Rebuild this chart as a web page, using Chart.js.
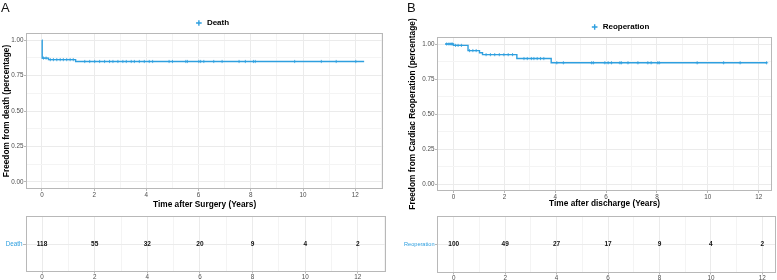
<!DOCTYPE html>
<html>
<head>
<meta charset="utf-8">
<script src="https://cdn.jsdelivr.net/npm/chart.js@4"></script>
<style>
  html, body { margin:0; padding:0; background:#fff; }
  #wrap { position:relative; width:777px; height:280px; overflow:hidden; background:#fff; }
  canvas { position:absolute; }
  .tag { position:absolute; font-family:'Liberation Sans', Arial, sans-serif; font-size:13px; line-height:13px; color:#111; }
</style>
</head>
<body>
<div id="wrap">
  <canvas id="kmA" width="388" height="212" style="left:0;top:0"></canvas>
  <canvas id="rtA" width="388" height="68" style="left:0;top:212px"></canvas>
  <canvas id="kmB" width="389" height="212" style="left:388px;top:0"></canvas>
  <canvas id="rtB" width="389" height="68" style="left:388px;top:212px"></canvas>
  <div class="tag" style="left:1px;top:1px">A</div>
  <div class="tag" style="left:407px;top:1px">B</div>
</div>
<script>
// ---------- DATA ----------
const seriesNames = ['Death', 'Reoperation'];
const xTitles = ['Time after Surgery (Years)', 'Time after discharge (Years)'];
const yTitles = ['Freedom from death (percentage)', 'Freedom from Cardiac Reoperation (percentage)'];

const xTickLabels = [0, 2, 4, 6, 8, 10, 12];
const yTickLabels = [0, 0.25, 0.5, 0.75, 1.0];

// Kaplan-Meier steps, panel A (Death)
const deathTimes = [0, 0.01, 0.25, 1.29, 12.34];
const deathSurv  = [1.0, 0.873, 0.862, 0.849, 0.849];
// censor marks, panel A
const deathCensorTimes = [0.06, 0.16,
  0.32, 0.44, 0.57, 0.70, 0.82, 0.95, 1.08, 1.20,
  1.64, 1.83, 2.02, 2.21, 2.40, 2.59, 2.72, 2.91, 3.10, 3.23, 3.42, 3.54, 3.73, 3.92, 4.11, 4.24,
  4.87, 5.00, 5.51, 5.57, 6.01, 6.08, 6.20, 6.58, 6.90, 7.55, 7.79, 8.10, 8.17, 9.68, 10.70, 11.27, 12.02];
const deathCensorSurv = [0.873, 0.873,
  0.862, 0.862, 0.862, 0.862, 0.862, 0.862, 0.862, 0.862,
  0.849, 0.849, 0.849, 0.849, 0.849, 0.849, 0.849, 0.849, 0.849, 0.849, 0.849, 0.849, 0.849, 0.849, 0.849, 0.849,
  0.849, 0.849, 0.849, 0.849, 0.849, 0.849, 0.849, 0.849, 0.849, 0.849, 0.849, 0.849, 0.849, 0.849, 0.849, 0.849, 0.849];

// Kaplan-Meier steps, panel B (Reoperation)
const reopTimes = [-0.33, 0.0, 0.57, 1.02, 1.14, 2.49, 3.84, 12.33];
const reopSurv  = [1.0, 0.99, 0.953, 0.938, 0.924, 0.896, 0.866, 0.866];
// censor marks, panel B
const reopCensorTimes = [-0.27, -0.18, -0.10, -0.05,
  0.08, 0.18, 0.31,
  0.63, 0.76, 0.89,
  1.28, 1.45, 1.62, 1.80, 1.98, 2.15, 2.32,
  2.77, 2.90, 3.06, 3.16, 3.29, 3.42, 3.55,
  4.06, 4.32, 5.43, 5.50, 5.95, 6.08, 6.21, 6.54, 6.60, 6.86, 7.25, 7.64, 7.77, 8.03, 8.09, 9.58, 10.62, 11.27, 12.31];
const reopCensorSurv = [1.0, 1.0, 1.0, 1.0,
  0.99, 0.99, 0.99,
  0.953, 0.953, 0.953,
  0.924, 0.924, 0.924, 0.924, 0.924, 0.924, 0.924,
  0.896, 0.896, 0.896, 0.896, 0.896, 0.896, 0.896,
  0.866, 0.866, 0.866, 0.866, 0.866, 0.866, 0.866, 0.866, 0.866, 0.866, 0.866, 0.866, 0.866, 0.866, 0.866, 0.866, 0.866, 0.866, 0.866];

// number at risk tables
const riskTimes = [0, 2, 4, 6, 8, 10, 12];
const deathAtRisk = [118, 55, 32, 20, 9, 4, 2];
const reopAtRisk  = [100, 49, 27, 17, 9, 4, 2];

// ---------- STYLE ----------
const FONT = "'Liberation Sans', Arial, Helvetica, sans-serif";
const BLUE = '#2E9FDF';
const GRID_MAJOR = '#EBEBEB';
const GRID_MINOR = '#F4F4F4';
const BORDER = '#B8B8B8';
const TICKTXT = '#4D4D4D';

const panelBorder = {
  id: 'panelBorder',
  afterDraw(chart) {
    const a = chart.chartArea, c = chart.ctx;
    c.save();
    c.strokeStyle = BORDER; c.lineWidth = 1;
    c.strokeRect(Math.round(a.left) + 0.5, Math.round(a.top) + 0.5,
                 Math.round(a.right - a.left) - 1, Math.round(a.bottom - a.top) - 1);
    c.restore();
  }
};

const legendShift = {
  id: 'legendShift',
  afterLayout(chart, args, opts) {
    const l = chart.legend;
    if (!l) return;
    const dx = opts.dx || 0, dy = opts.dy || 0;
    l.left += dx; l.right += dx; l.top += dy; l.bottom += dy;
  }
};

const riskLabels = {
  id: 'riskLabels',
  afterDatasetsDraw(chart) {
    const ctx = chart.ctx;
    chart.data.datasets.forEach((ds, i) => {
      if (!ds.counts) return;
      const meta = chart.getDatasetMeta(i);
      ctx.save();
      ctx.font = `bold 6.5px ${FONT}`;
      ctx.fillStyle = '#111';
      ctx.textAlign = 'center';
      ctx.textBaseline = 'middle';
      meta.data.forEach((pt, j) => ctx.fillText(String(ds.counts[j]), pt.x, pt.y));
      ctx.restore();
    });
  }
};

function isMajor(list, v) { return list.some(m => Math.abs(m - v) < 1e-9); }

function xScale(min, max, opts) {
  const minors = [];
  for (let v = Math.ceil(min); v <= max; v++) if (!isMajor(xTickLabels, v)) minors.push(v);
  return {
    type: 'linear', min, max,
    afterFit: s => { s.height = opts.height; },
    afterBuildTicks: s => {
      s.ticks = xTickLabels.concat(minors).sort((a, b) => a - b).map(v => ({ value: v }));
    },
    ticks: {
      autoSkip: false, maxRotation: 0, padding: opts.pad,
      color: TICKTXT, font: { family: FONT, size: 6.3 },
      callback: v => isMajor(xTickLabels, v) ? String(v) : ''
    },
    grid: {
      drawTicks: true, tickLength: opts.tl,
      color: c => isMajor(xTickLabels, c.tick.value) ? GRID_MAJOR : GRID_MINOR,
      lineWidth: 1,
      tickColor: c => isMajor(xTickLabels, c.tick.value) ? BORDER : 'rgba(0,0,0,0)'
    },
    border: { display: false },
    title: opts.title ? {
      display: true, text: opts.title, color: '#000',
      font: { family: FONT, size: 8.3, weight: 'bold' },
      padding: { top: 0, bottom: opts.titlePad }
    } : { display: false }
  };
}

function yScaleKM(width, title, titlePad) {
  const minors = [0.125, 0.375, 0.625, 0.875];
  return {
    type: 'linear', min: -0.05, max: 1.05,
    afterFit: s => { s.width = width; },
    afterBuildTicks: s => {
      s.ticks = yTickLabels.concat(minors).sort((a, b) => a - b).map(v => ({ value: v }));
    },
    ticks: {
      autoSkip: false, padding: 0.5, color: TICKTXT, font: { family: FONT, size: 6.3 },
      callback: v => isMajor(yTickLabels, v) ? v.toFixed(2) : ''
    },
    grid: {
      drawTicks: true, tickLength: 2,
      color: c => isMajor(yTickLabels, c.tick.value) ? GRID_MAJOR : GRID_MINOR,
      lineWidth: 1,
      tickColor: c => isMajor(yTickLabels, c.tick.value) ? BORDER : 'rgba(0,0,0,0)'
    },
    border: { display: false },
    title: {
      display: true, text: title, color: '#000',
      font: { family: FONT, size: 8.3, weight: 'bold' },
      padding: { top: titlePad, bottom: 0 }
    }
  };
}

function kmChart(id, cfg) {
  return new Chart(document.getElementById(id), {
    type: 'line',
    data: {
      datasets: [
        {
          label: cfg.name,
          data: cfg.times.map((t, i) => ({ x: t, y: cfg.surv[i] })),
          borderColor: BLUE, backgroundColor: BLUE, borderWidth: 1.4,
          stepped: true, pointRadius: 0, fill: false, pointStyle: 'cross'
        },
        {
          label: cfg.name + ' censored',
          type: 'scatter',
          data: cfg.cTimes.map((t, i) => ({ x: t, y: cfg.cSurv[i] })),
          pointStyle: 'cross', pointRadius: 1.6, borderColor: BLUE, backgroundColor: BLUE,
          borderWidth: 0.8, showLine: false
        }
      ]
    },
    options: {
      responsive: false, animation: false, devicePixelRatio: 1,
      layout: { padding: { left: 0, right: cfg.padRight, top: cfg.padTop, bottom: 0 } },
      plugins: {
        legend: {
          display: true, position: 'top',
          labels: {
            filter: it => it.datasetIndex === 0,
            usePointStyle: true, pointStyle: 'cross', boxWidth: 9, boxHeight: 4, padding: 5,
            color: '#000', font: { family: FONT, size: 8, weight: 'bold' }
          }
        },
        tooltip: { enabled: false },
        legendShift: { dx: cfg.legendDx, dy: 4 }
      },
      scales: {
        x: xScale(cfg.xmin, cfg.xmax, { height: cfg.xh, pad: 0, tl: 2, title: cfg.xTitle, titlePad: cfg.xTitlePad }),
        y: yScaleKM(cfg.yw, cfg.yTitle, cfg.yTitlePad)
      }
    },
    plugins: [panelBorder, legendShift]
  });
}

function riskChart(id, cfg) {
  return new Chart(document.getElementById(id), {
    type: 'scatter',
    data: {
      datasets: [{
        label: cfg.name,
        data: riskTimes.map(t => ({ x: t, y: 0.5 })),
        counts: cfg.counts, pointRadius: 0
      }]
    },
    options: {
      responsive: false, animation: false, devicePixelRatio: 1,
      layout: { padding: { left: 0, right: cfg.padRight, top: cfg.padTop, bottom: 0 } },
      plugins: { legend: { display: false }, tooltip: { enabled: false } },
      scales: {
        x: xScale(cfg.xmin, cfg.xmax, { height: cfg.xh, pad: 0, tl: 1.5 }),
        y: {
          type: 'linear', min: 0, max: 1,
          afterFit: s => { s.width = cfg.yw; },
          afterBuildTicks: s => { s.ticks = [{ value: 0.5 }]; },
          ticks: {
            color: BLUE, padding: 0.5, font: { family: FONT, size: cfg.nameSize },
            callback: () => cfg.name
          },
          grid: { color: GRID_MAJOR, lineWidth: 1, tickLength: cfg.ytl, tickColor: BORDER },
          border: { display: false }
        }
      }
    },
    plugins: [panelBorder, riskLabels]
  });
}

kmChart('kmA', {
  name: seriesNames[0], times: deathTimes, surv: deathSurv,
  cTimes: deathCensorTimes, cSurv: deathCensorSurv,
  xmin: -0.61, xmax: 13.07, xh: 23, xTitle: xTitles[0], xTitlePad: 2,
  yw: 26, yTitle: yTitles[0], yTitlePad: 2,
  padRight: 2, padTop: 10, legendDx: 19
});
riskChart('rtA', {
  name: seriesNames[0], counts: deathAtRisk,
  xmin: -0.61, xmax: 13.07, xh: 8, yw: 26, ytl: 3, nameSize: 6.3,
  padRight: 2, padTop: 3
});
kmChart('kmB', {
  name: seriesNames[1], times: reopTimes, surv: reopSurv,
  cTimes: reopCensorTimes, cSurv: reopCensorSurv,
  xmin: -0.65, xmax: 12.53, xh: 21, xTitle: xTitles[1], xTitlePad: 3,
  yw: 49, yTitle: yTitles[1], yTitlePad: 20,
  padRight: 1, padTop: 14, legendDx: 38
});
riskChart('rtB', {
  name: seriesNames[1], counts: reopAtRisk,
  xmin: -0.65, xmax: 12.53, xh: 7, yw: 49, ytl: 2, nameSize: 5.6,
  padRight: 1, padTop: 4
});
</script>
</body>
</html>
